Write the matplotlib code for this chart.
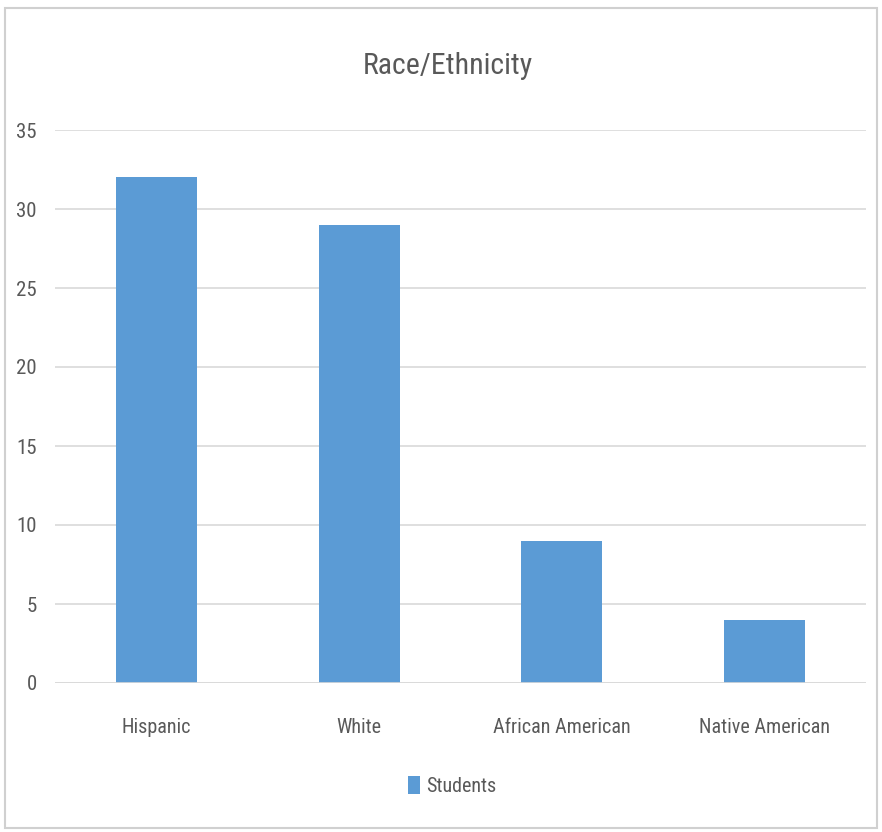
import matplotlib
matplotlib.use("Agg")
import matplotlib.pyplot as plt
from matplotlib.patches import Rectangle

categories = ["Hispanic", "White", "African American", "Native American"]
students = [32, 29, 9, 4]
yticks = [0, 5, 10, 15, 20, 25, 30, 35]

plt.rcParams['font.family'] = ['Roboto Condensed', 'DejaVu Sans']
plt.rcParams['font.weight'] = 'normal'

txt = "#595959"
fig = plt.figure(figsize=(8.82, 8.32), dpi=100)
ax = fig.add_axes([55/882, 1-683/832, (866-55)/882, (683-130)/832])
x = range(len(categories))
ax.bar(x, students, width=0.4, color="#5B9BD5", label="Students", zorder=3)
ax.set_xlim(-0.5, len(categories)-0.5)
ax.set_ylim(0, 35)
ax.set_yticks(yticks)
ax.set_yticklabels([str(v) for v in yticks], fontsize=15, color=txt)
ax.set_xticks(list(x))
ax.set_xticklabels(categories, fontsize=14.5, color=txt)
ax.tick_params(axis='y', length=0, pad=13)
ax.tick_params(axis='x', length=0, pad=25)
ax.grid(axis='y', color="#d9d9d9", linewidth=1.2, zorder=0)
for s in ax.spines.values():
    s.set_visible(False)
ax.axhline(0, color="#d9d9d9", linewidth=1.2, zorder=4)
fig.text(448/882, 1-66/832, "Race/Ethnicity", ha='center', va='center', fontsize=21.5, color=txt)
leg = fig.legend(loc='center', bbox_to_anchor=(452/882, 1-786/832), frameon=False,
                 fontsize=14.5, handlelength=0.6, handleheight=1.0, handletextpad=0.3)
for t in leg.get_texts():
    t.set_color(txt)
fig.patches.append(Rectangle((5/882, 4/832), 872/882, 820/832, transform=fig.transFigure,
                             fill=False, edgecolor="#d0d0d0", linewidth=1.5))
fig.savefig("out.png", dpi=100)
